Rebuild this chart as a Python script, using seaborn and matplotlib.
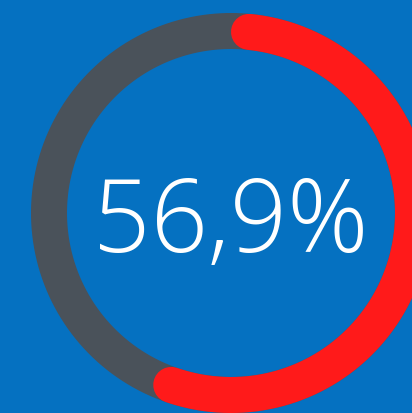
import matplotlib
matplotlib.use("Agg")
import matplotlib.pyplot as plt
import seaborn as sns
import pandas as pd
import numpy as np

# gauge value
value = 56.9
label = "56,9%"

bg_color = "#0571c1"
track_color = "#4a525a"
arc_color = "#ff1a1a"

W, H = 412, 413
cx, cy = 231, 213
radius = 182
ring_px = 36

sns.set_theme(style="white")

fig = plt.figure(figsize=(W / 100, H / 100), dpi=100, facecolor=bg_color)
ax = fig.add_axes([0, 0, 1, 1])
ax.set_facecolor(bg_color)
ax.set_xlim(0, W)
ax.set_ylim(H, 0)
ax.set_axis_off()

lw = ring_px * 72 / 100


def arc_frame(start_deg, end_deg, n=400):
    # angles measured clockwise from 12 o'clock
    t = np.radians(np.linspace(start_deg, end_deg, n))
    return pd.DataFrame({
        "x": cx + radius * np.sin(t),
        "y": cy - radius * np.cos(t),
        "k": np.arange(n),
    })


track = arc_frame(0, 360)
sns.lineplot(data=track, x="x", y="y", sort=False, estimator=None,
             color=track_color, linewidth=lw, ax=ax)

# round caps sit inside the arc span
cap_deg = np.degrees((ring_px / 2) / radius)
red = arc_frame(cap_deg, value / 100 * 360 - cap_deg)
sns.lineplot(data=red, x="x", y="y", sort=False, estimator=None,
             color=arc_color, linewidth=lw, solid_capstyle="round", ax=ax)

ax.text(cx, 252, label, color="white", ha="center", va="baseline",
        fontsize=72.5, fontweight="light", family=["Open Sans", "DejaVu Sans"])

ax.set_xlim(0, W)
ax.set_ylim(H, 0)
ax.set_aspect("auto")
fig.savefig("out.png", dpi=100, facecolor=bg_color)
